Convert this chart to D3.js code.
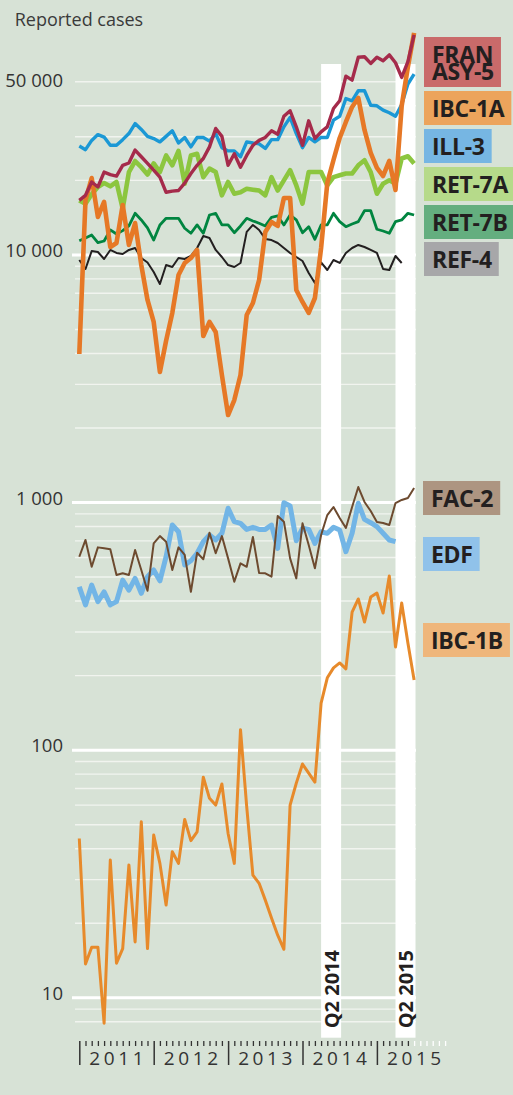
<!DOCTYPE html>
<html><head><meta charset="utf-8">
<script src="https://cdn.jsdelivr.net/npm/d3@7"></script>
<style>
html,body{margin:0;padding:0;background:#d7e2d6;}
svg{display:block;}
text{font-family:"Open Sans",sans-serif;}
</style></head><body>
<svg id="c" width="513" height="1095"></svg>
<script>
// ---------- DATA (monthly, index 0 = Jan 2011) ----------
const years = [2011, 2012, 2013, 2014, 2015];
const yLabelTicks = [50000, 10000, 1000, 100, 10];
const yLabelTexts = ["50 000", "10 000", "1 000", "100", "10"];
const majorGrid = [10, 100, 1000, 10000];
const minorGrid = [8, 9, 20, 30, 40, 50, 60, 70, 80, 90, 200, 300, 400, 500, 600, 700, 800, 900,
  2000, 3000, 4000, 5000, 6000, 7000, 8000, 9000, 20000, 30000, 40000, 50000];
const quarterStarts = [39, 51];
const quarterLabels = ["Q2 2014", "Q2 2015"];

const franasy5 = [16600, 17400, 19700, 18800, 21600, 21100, 20800, 23000, 23500, 26500,
  24900, 23400, 22000, 20600, 17900, 18100, 18200, 19500, 21300, 23000,
  24500, 27300, 32400, 30100, 23000, 25600, 22600, 25200, 27700, 29000,
  29800, 31700, 30700, 36300, 38200, 32900, 27700, 34800, 29500, 31400,
  32900, 39000, 41900, 52700, 50800, 62800, 63100, 59300, 62800, 60800,
  64200, 59700, 52100, 60300, 77300];
const ibc1a = [3980, 16660, 20440, 14230, 16360, 10760, 11170, 15910, 10970, 13450,
  9100, 6575, 5360, 3366, 4500, 5830, 8294, 9276, 9716, 10470,
  4705, 5360, 4883, 3273, 2256, 2594, 3273, 5720, 6393, 7917,
  12380, 13580, 13090, 16970, 16970, 7215, 6454, 5830, 6697, 10660,
  19520, 24170, 29660, 34420, 39570, 43020, 31950, 25800, 22440, 20830,
  23950, 18290, 40000, 57400, 78760];
const ill3 = [27500, 26600, 29000, 30600, 29900, 27700, 27700, 29200, 30900, 33900,
  32100, 30100, 29500, 28600, 30100, 31700, 28300, 29800, 27300, 29800,
  29800, 28800, 30900, 27100, 26300, 26300, 24900, 28600, 28300, 28100,
  26900, 29200, 29200, 32900, 35900, 30900, 27100, 29800, 28600, 29800,
  29800, 35000, 36300, 42800, 41900, 46000, 46000, 40200, 40000, 38400,
  37500, 36300, 40500, 49000, 53700];
const ret7a = [16600, 16100, 17560, 18800, 19500, 18920, 19700, 15360, 21600, 23940,
  22600, 21100, 23400, 21600, 25200, 23000, 26300, 19380, 25200, 25600,
  20600, 22300, 21600, 17400, 19700, 17660, 17900, 18500, 18340, 18200,
  17400, 20600, 18200, 20000, 22000, 19070, 16100, 21600, 21600, 21600,
  19070, 20600, 20960, 21300, 21300, 23000, 24100, 21600, 17660, 19380,
  20000, 19380, 24500, 25020, 23400];
const ret7b = [11410, 11700, 12030, 11200, 11380, 12610, 12140, 12530, 13090, 14720,
  13840, 12850, 11480, 13210, 14050, 14050, 14050, 12810, 12230, 13210,
  12230, 14490, 14720, 13210, 13210, 12290, 13090, 14050, 13710, 13420,
  13090, 14190, 14360, 13210, 14490, 13840, 12290, 13000, 11560, 13210,
  13210, 14720, 13620, 13000, 13330, 13620, 15080, 15080, 12690, 12490,
  12230, 13620, 13840, 14720, 14490];
const ref4 = [9537, 8770, 10370, 10270, 9625, 10470, 10180, 10080, 10470, 10660,
  9716, 9318, 8530, 7627, 9100, 8937, 9716, 9625, 9899, 10660,
  11920, 11700, 10470, 9806, 9100, 8937, 9276, 12380, 13210, 12610,
  11600, 11480, 11170, 10660, 10180, 9806, 9449, 8452, 7698, 9318,
  8690, 9537, 9276, 10180, 10660, 10970, 10760, 10470, 10180, 8770,
  8690, 9899, 9276];
const fac2 = [604, 706, 550, 659, 653, 647, 510, 518, 510, 643,
  534, 440, 684, 732, 695, 534, 659, 614, 436, 627,
  590, 755, 624, 732, 595, 479, 568, 550, 726, 519,
  518, 502, 882, 837, 595, 494, 824, 674, 543, 739,
  890, 959, 866, 789, 959, 1155, 1005, 924, 834, 827,
  811, 995, 1024, 1043, 1144];
const edf = [457, 386, 464, 398, 436, 386, 398, 486, 443, 494,
  430, 502, 534, 483, 604, 811, 762, 559, 582, 624,
  695, 739, 706, 751, 948, 837, 824, 779, 794, 779,
  779, 811, 653, 998, 968, 701, 787, 779, 684, 762,
  751, 794, 774, 633, 751, 993, 855, 829, 799, 751,
  706, 695];
const ibc1b = [44, 13.7, 16, 16, 7.9, 36, 13.8, 15.8, 34.4, 16.8,
  51.4, 15.8, 45.4, 34.9, 23.7, 38.9, 34.9, 52.5, 43.1, 46.8,
  77.7, 63.9, 60, 73, 46.1, 34.9, 121, 59.1, 31.3, 29,
  24.8, 21, 17.9, 15.7, 60, 73.6, 87.9, 80.8, 74.3, 155,
  196, 215, 225, 213, 361, 408, 329, 415, 431, 358,
  505, 261, 393, 271, 192];

const seriesNames = ["RET-7B", "REF-4", "RET-7A", "ILL-3", "IBC-1A", "FRANASY-5", "EDF", "FAC-2", "IBC-1B"];
const seriesData = [ret7b, ref4, ret7a, ill3, ibc1a, franasy5, edf, fac2, ibc1b];

// ---------- STYLES ----------
const lineStyle = {
  "FRANASY-5": {c: "#a52b4b", w: 3.4},
  "IBC-1A": {c: "#e67826", w: 4.6},
  "ILL-3": {c: "#1b98d5", w: 3.4},
  "RET-7A": {c: "#8cc63f", w: 4.6},
  "RET-7B": {c: "#008540", w: 2.8},
  "REF-4": {c: "#231f20", w: 2.0},
  "FAC-2": {c: "#6d4a2f", w: 2.0},
  "EDF": {c: "#72b5e6", w: 5.0},
  "IBC-1B": {c: "#e78a2b", w: 3.0}
};
const labelDefs = [
  {lines: ["FRAN", "ASY-5"], fill: "#c96a6a", x: 424, y: 37, h: 50},
  {lines: ["IBC-1A"], fill: "#eca45c", x: 424, y: 91, h: 34},
  {lines: ["ILL-3"], fill: "#76b6e3", x: 424, y: 129, h: 34},
  {lines: ["RET-7A"], fill: "#b6da8a", x: 424, y: 167, h: 34},
  {lines: ["RET-7B"], fill: "#64ae7f", x: 424, y: 205, h: 34},
  {lines: ["REF-4"], fill: "#a7a7a9", x: 424, y: 242, h: 34},
  {lines: ["FAC-2"], fill: "#ad9581", x: 423, y: 481, h: 34},
  {lines: ["EDF"], fill: "#90c2ea", x: 423, y: 537, h: 34},
  {lines: ["IBC-1B"], fill: "#efb67b", x: 423, y: 623, h: 34}
];

// ---------- SCALES ----------
const W = 513, H = 1095;
const x = d3.scaleLinear().domain([0, 60]).range([79.3, 451.3]);
const y = d3.scaleLog().domain([6.9, 59000]).range([1037.7, 64]);
const plotRight = 416;

const svg = d3.select("#c");
svg.append("rect").attr("width", W).attr("height", H).attr("fill", "#d7e2d6");

// gridlines
svg.append("g").selectAll("line").data(minorGrid).join("line")
  .attr("x1", 75).attr("x2", plotRight)
  .attr("y1", d => y(d)).attr("y2", d => y(d))
  .attr("stroke", "#f1f4ef").attr("stroke-width", 1.4);
svg.append("g").selectAll("line").data(majorGrid).join("line")
  .attr("x1", 72).attr("x2", plotRight)
  .attr("y1", d => y(d)).attr("y2", d => y(d))
  .attr("stroke", "#ffffff").attr("stroke-width", 3);

// Q2 bands
const bandW = 20;
svg.append("g").selectAll("rect").data(quarterStarts).join("rect")
  .attr("x", d => x(d)).attr("width", bandW)
  .attr("y", y.range()[1]).attr("height", y.range()[0] - y.range()[1])
  .attr("fill", "#ffffff");
svg.append("g").selectAll("text").data(quarterStarts).join("text")
  .attr("transform", d => `translate(${x(d) + bandW - 2.6},${y.range()[0] - 9.4}) rotate(-90)`)
  .attr("font-size", 20).attr("font-weight", 700).attr("fill", "#231f20")
  .text((d, i) => quarterLabels[i]);

// y labels
svg.append("g").selectAll("text").data(yLabelTicks).join("text")
  .attr("x", 63).attr("y", d => y(d) + (d === 50000 ? 5.5 : 2))
  .attr("text-anchor", "end").attr("font-size", 18.5).attr("fill", "#333333")
  .text((d, i) => yLabelTexts[i]);

svg.append("text").attr("x", 14.7).attr("y", 26).attr("font-size", 18)
  .attr("fill", "#3a3a3a").text("Reported cases");

// lines
const line = d3.line().x((d, i) => x(i)).y(d => y(d)).curve(d3.curveLinear);
seriesNames.forEach((n, k) => {
  svg.append("path").datum(seriesData[k])
    .attr("d", line).attr("fill", "none")
    .attr("stroke", lineStyle[n].c).attr("stroke-width", lineStyle[n].w)
    .attr("stroke-linejoin", "round").attr("stroke-linecap", "butt");
});

// x axis
const axisY = 1041;
const allMonths = d3.range(0, 60);
const minorIdx = allMonths.filter(m => m % 12 !== 0);
const majorIdx = allMonths.filter(m => m % 12 === 0);
const lastDataMonth = ibc1b.length - 1;
const gMin = svg.append("g").attr("transform", `translate(0,${axisY})`)
  .call(d3.axisBottom(x).tickValues(minorIdx).tickSize(5).tickFormat(""));
gMin.select(".domain").remove();
gMin.selectAll(".tick line").attr("stroke", d => d >= lastDataMonth ? "#ffffff" : "#333333").attr("stroke-width", 1.3);
const gMaj = svg.append("g").attr("transform", `translate(0,${axisY})`)
  .call(d3.axisBottom(x).tickValues(majorIdx).tickSize(24).tickFormat(""));
gMaj.select(".domain").remove();
gMaj.selectAll(".tick line").attr("stroke", "#333333").attr("stroke-width", 1.5);

svg.append("g").selectAll("text").data(years).join("text")
  .attr("x", (d, i) => x(i * 12 + 6) + 1.8).attr("y", 1064.5)
  .attr("text-anchor", "middle").attr("font-size", 19).attr("letter-spacing", "3.6px")
  .attr("fill", "#333333").text(d => String(d));

// label boxes (multi-line labels are one text element with tspans)
labelDefs.forEach(L => {
  const g = svg.append("g");
  const rect = g.append("rect").attr("x", L.x).attr("y", L.y).attr("height", L.h).attr("fill", L.fill);
  const tx = g.append("text")
    .attr("x", L.x + 8)
    .attr("y", L.lines.length > 1 ? L.y + 25.7 : L.y + 26)
    .attr("font-size", 23).attr("font-weight", 700).attr("fill", "#231f20")
    .attr("letter-spacing", "-0.3px");
  let maxW = 0;
  L.lines.forEach((t, j) => {
    const ts = tx.append("tspan").attr("x", L.x + 8).attr("dy", j === 0 ? 0 : 17.6).text(t);
    maxW = Math.max(maxW, ts.node().getComputedTextLength());
  });
  rect.attr("width", Math.min(maxW + 15, W - L.x));
});
</script>
</body></html>
